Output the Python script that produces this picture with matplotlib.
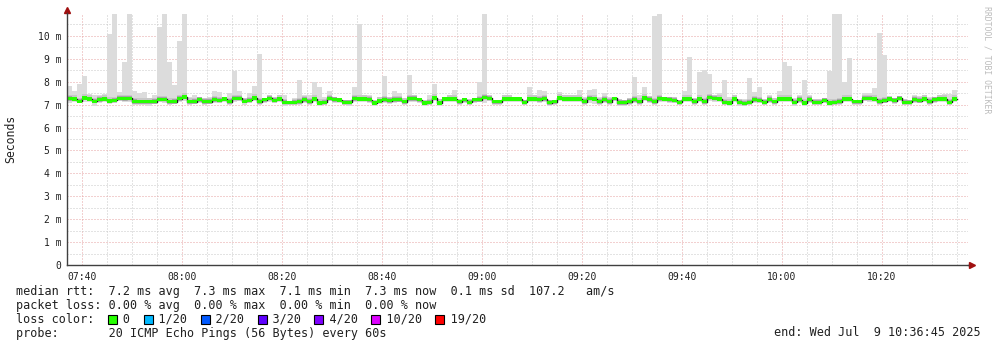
import numpy as np
import matplotlib.pyplot as plt
from matplotlib.patches import Rectangle

# ----- data (one value per minute, starting 07:37) -----
t_start = 7 * 60 + 37  # minutes since midnight

median_ms = [
    7.26, 7.25, 7.15, 7.29, 7.25, 7.15, 7.22, 7.25, 7.16, 7.19, 7.28, 7.26, 7.28, 7.13, 7.12,
    7.12, 7.12, 7.13, 7.23, 7.23, 7.12, 7.13, 7.26, 7.33, 7.12, 7.13, 7.22, 7.13, 7.13, 7.22,
    7.19, 7.25, 7.13, 7.28, 7.28, 7.15, 7.19, 7.29, 7.13, 7.22, 7.28, 7.19, 7.25, 7.10, 7.10,
    7.10, 7.13, 7.22, 7.13, 7.25, 7.07, 7.10, 7.28, 7.22, 7.20, 7.10, 7.10, 7.26, 7.25, 7.25,
    7.22, 7.07, 7.16, 7.22, 7.17, 7.22, 7.22, 7.12, 7.26, 7.26, 7.22, 7.07, 7.10, 7.29, 7.07,
    7.25, 7.25, 7.25, 7.12, 7.22, 7.10, 7.22, 7.22, 7.32, 7.28, 7.12, 7.12, 7.25, 7.25, 7.25,
    7.25, 7.10, 7.25, 7.25, 7.22, 7.26, 7.09, 7.12, 7.29, 7.25, 7.25, 7.25, 7.25, 7.13, 7.28,
    7.25, 7.13, 7.22, 7.13, 7.28, 7.09, 7.09, 7.13, 7.22, 7.12, 7.29, 7.22, 7.13, 7.26, 7.25,
    7.22, 7.19, 7.10, 7.25, 7.25, 7.13, 7.25, 7.13, 7.32, 7.28, 7.25, 7.10, 7.07, 7.25, 7.10,
    7.06, 7.10, 7.22, 7.19, 7.10, 7.22, 7.12, 7.25, 7.25, 7.25, 7.10, 7.22, 7.07, 7.22, 7.10,
    7.10, 7.19, 7.07, 7.10, 7.13, 7.25, 7.25, 7.13, 7.13, 7.28, 7.28, 7.25, 7.13, 7.17, 7.25,
    7.17, 7.28, 7.10, 7.10, 7.22, 7.17, 7.25, 7.13, 7.22, 7.25, 7.25, 7.10, 7.25,
]

max_ms = [
    7.83, 7.60, 7.90, 8.23, 7.45, 7.40, 7.40, 7.45, 10.09, 10.95, 7.55, 8.85, 10.95, 7.60, 7.50,
    7.55, 7.30, 7.40, 10.38, 10.95, 8.85, 7.87, 9.78, 10.95, 7.35, 7.40, 7.35, 7.30, 7.35, 7.60,
    7.55, 7.33, 7.50, 8.48, 7.58, 7.30, 7.50, 7.83, 9.22, 7.30, 7.40, 7.33, 7.43, 7.40, 7.15,
    7.30, 8.09, 7.40, 7.43, 7.97, 7.77, 7.33, 7.58, 7.33, 7.30, 7.22, 7.19, 7.77, 10.52, 7.43,
    7.43, 7.19, 7.33, 8.23, 7.33, 7.58, 7.50, 7.30, 8.28, 7.40, 7.30, 7.19, 7.40, 7.91, 7.25,
    7.33, 7.43, 7.62, 7.25, 7.30, 7.25, 7.30, 7.97, 10.95, 7.43, 7.22, 7.22, 7.43, 7.43, 7.33,
    7.33, 7.22, 7.77, 7.43, 7.62, 7.60, 7.19, 7.19, 7.55, 7.40, 7.40, 7.43, 7.65, 7.33, 7.65,
    7.70, 7.33, 7.50, 7.33, 7.33, 7.25, 7.22, 7.30, 8.20, 7.43, 7.77, 7.36, 10.87, 10.95, 7.33,
    7.33, 7.33, 7.22, 7.58, 9.07, 7.30, 8.42, 8.52, 8.35, 7.43, 7.50, 8.09, 7.33, 7.40, 7.25,
    7.25, 8.17, 7.54, 7.77, 7.25, 7.40, 7.30, 7.60, 8.88, 8.67, 7.30, 7.40, 8.06, 7.40, 7.25,
    7.25, 7.30, 8.49, 10.95, 10.95, 8.00, 9.03, 7.22, 7.19, 7.50, 7.50, 7.72, 10.12, 9.17, 7.36,
    7.30, 7.36, 7.25, 7.22, 7.40, 7.36, 7.43, 7.33, 7.33, 7.40, 7.48, 7.48, 7.62,
]

min_ms = [
    7.07, 7.12, 7.05, 7.10, 7.12, 6.95, 7.05, 7.10, 7.02, 7.05, 7.15, 7.10, 7.12, 7.00, 6.98,
    7.00, 6.95, 7.02, 7.10, 7.08, 7.00, 7.02, 7.10, 7.15, 7.00, 7.02, 7.05, 7.00, 7.02, 7.08,
    7.05, 7.12, 7.00, 7.12, 7.15, 6.98, 7.05, 7.15, 7.00, 7.08, 7.12, 7.05, 7.10, 6.95, 7.00,
    6.98, 7.00, 7.05, 7.00, 7.10, 6.95, 6.98, 7.15, 7.08, 7.05, 6.98, 6.95, 7.10, 7.12, 7.10,
    7.08, 6.95, 7.02, 7.08, 7.02, 7.08, 7.10, 7.00, 7.12, 7.12, 7.08, 6.95, 6.98, 7.15, 6.95,
    7.12, 7.10, 7.12, 7.00, 7.08, 6.98, 7.08, 7.10, 7.05, 7.15, 7.00, 7.00, 7.10, 7.12, 7.10,
    7.10, 6.98, 7.12, 7.10, 7.05, 7.12, 6.93, 7.00, 7.15, 7.10, 7.12, 7.12, 7.10, 7.00, 7.05,
    7.02, 7.00, 7.08, 7.00, 7.15, 6.95, 6.95, 7.00, 7.08, 7.00, 7.15, 7.08, 7.00, 7.12, 7.12,
    7.08, 7.05, 6.98, 7.10, 7.12, 7.00, 7.10, 7.00, 7.18, 7.12, 7.12, 6.98, 6.93, 7.10, 6.95,
    6.93, 6.98, 7.08, 7.05, 6.98, 7.08, 7.00, 7.10, 7.12, 7.10, 6.95, 7.08, 6.93, 7.08, 6.98,
    6.98, 7.05, 6.95, 6.98, 7.00, 7.12, 7.12, 6.98, 6.98, 7.15, 7.12, 7.10, 7.00, 7.05, 7.12,
    7.02, 7.15, 6.98, 6.98, 7.08, 7.05, 7.12, 7.00, 7.08, 7.12, 7.10, 6.98, 7.12,
]

ytick_vals = [0, 1, 2, 3, 4, 5, 6, 7, 8, 9, 10]
ytick_labels = ["0", "1 m", "2 m", "3 m", "4 m", "5 m", "6 m", "7 m", "8 m", "9 m", "10 m"]
xtick_labels = ["07:40", "08:00", "08:20", "08:40", "09:00", "09:20", "09:40", "10:00", "10:20"]

stats_rtt = "median rtt:  7.2 ms avg  7.3 ms max  7.1 ms min  7.3 ms now  0.1 ms sd  107.2   am/s"
stats_loss = "packet loss: 0.00 % avg  0.00 % max  0.00 % min  0.00 % now"
loss_labels = ["0", "1/20", "2/20", "3/20", "4/20", "10/20", "19/20"]
loss_colors = ["#26ff00", "#00b8ff", "#0059ff", "#5e00ff", "#7e00ff", "#dd00ff", "#ff0000"]
probe_text = "probe:       20 ICMP Echo Pings (56 Bytes) every 60s"
end_text = "end: Wed Jul  9 10:36:45 2025"

# ----- figure -----
W, H, DPI = 997, 347, 100
MONO = "DejaVu Sans Mono"
fig = plt.figure(figsize=(W / DPI, H / DPI), dpi=DPI)
ax = fig.add_axes([67 / W, (H - 265) / H, 901 / W, 252 / H])

med = np.array(median_ms)
hi = np.array(max_ms)
lo = np.array(min_ms)
n = len(med)
x = np.arange(n + 1)
ext = lambda a: np.append(a, a[-1])

# smoke: full range light, then darker shades close to the median
ax.fill_between(x, ext(lo), ext(hi), step="post", color="#dcdcdc", lw=0, zorder=2)
mid_lo = np.maximum(lo, med - 0.1)
mid_hi = np.minimum(hi, med + 0.16)
ax.fill_between(x, ext(mid_lo), ext(mid_hi), step="post", color="#c8c8c8", lw=0, zorder=3)
dk_hi = np.minimum(hi, med + 0.1)
ax.fill_between(x, ext(med), ext(dk_hi), step="post", color="#a4a4a4", lw=0, zorder=3)

# median: black line + loss colour band
ax.step(x, ext(med), where="post", color="#202020", lw=1, zorder=4)
ax.fill_between(x, ext(med - 0.07), ext(med + 0.07), step="post", color=loss_colors[0], lw=0, zorder=5)

# grid
minor_style = dict(color="#c8c8c8", lw=0.72, ls=(0, (1, 2)), zorder=1)
major_style = dict(color="#e6a3a3", lw=0.72, ls=(0, (1, 2)), zorder=1)
xlim_max = 901 / 5
first_tick = 3  # 07:40
for m in np.arange(first_tick % 5, xlim_max, 5):
    st = major_style if (m - first_tick) % 20 == 0 else minor_style
    ax.axvline(m, **st)
for v in np.arange(0.5, 11, 0.5):
    st = major_style if v % 1 == 0 else minor_style
    ax.axhline(v, **st)

ax.set_xlim(0, xlim_max)
ax.set_ylim(0, 11.0)
ax.set_yticks(ytick_vals)
ax.set_yticklabels(ytick_labels, family=MONO, fontsize=7, color="#202020")
ax.set_xticks(np.arange(first_tick, xlim_max, 20))
ax.set_xticklabels(xtick_labels, family=MONO, fontsize=7, color="#202020")
ax.tick_params(length=0, pad=4)
ax.tick_params(axis="x", pad=5)

for s in ["top", "right"]:
    ax.spines[s].set_visible(False)
for s in ["left", "bottom"]:
    ax.spines[s].set_color("#404040")
    ax.spines[s].set_linewidth(1)
    ax.spines[s].set_zorder(6)

# axis extensions + arrows
ax.plot([0, 0], [1, 1.01], transform=ax.transAxes, color="#404040", lw=1, clip_on=False)
ax.plot([0], [1.013], transform=ax.transAxes, marker="^", ms=4, color="#a01010", clip_on=False)
ax.plot([1, 1.003], [0, 0], transform=ax.transAxes, color="#404040", lw=1, clip_on=False)
ax.plot([1.004], [0], transform=ax.transAxes, marker=">", ms=4, color="#a01010", clip_on=False)

fig.text(11 / W, 1 - 139 / H, "Seconds", rotation=90, family=MONO, fontsize=8.3,
         ha="center", va="center", color="#202020")
fig.text(987 / W, 1 - 60 / H, "RRDTOOL / TOBI OETIKER", rotation=270, family=MONO,
         fontsize=5.9, ha="center", va="center", color="#bcbcbc")

# legend block
fs = 8.5
cw = 0.602 * fs * DPI / 72  # char width in px
x0 = 16
rows = [291, 305, 319, 333]
fig.text(x0 / W, 1 - rows[0] / H, stats_rtt, family=MONO, fontsize=fs, va="center", color="#202020")
fig.text(x0 / W, 1 - rows[1] / H, stats_loss, family=MONO, fontsize=fs, va="center", color="#202020")

loss_line = "loss color:  "
sq_cols = []
for lab in loss_labels:
    sq_cols.append(len(loss_line))
    loss_line += "  " + lab + "  "
fig.text(x0 / W, 1 - rows[2] / H, loss_line, family=MONO, fontsize=fs, va="center", color="#202020")
for col, c in zip(sq_cols, loss_colors):
    px = x0 + col * cw
    fig.add_artist(Rectangle((px / W, (H - rows[2] - 5) / H), 9 / W, 9 / H,
                             transform=fig.transFigure, facecolor=c, edgecolor="black", lw=0.8))

fig.text(x0 / W, 1 - rows[3] / H, probe_text, family=MONO, fontsize=fs, va="center", color="#202020")
fig.text(981 / W, 1 - rows[3] / H, end_text, family=MONO, fontsize=fs, va="center", ha="right", color="#202020")

fig.savefig("out.png", dpi=DPI, facecolor="white")
